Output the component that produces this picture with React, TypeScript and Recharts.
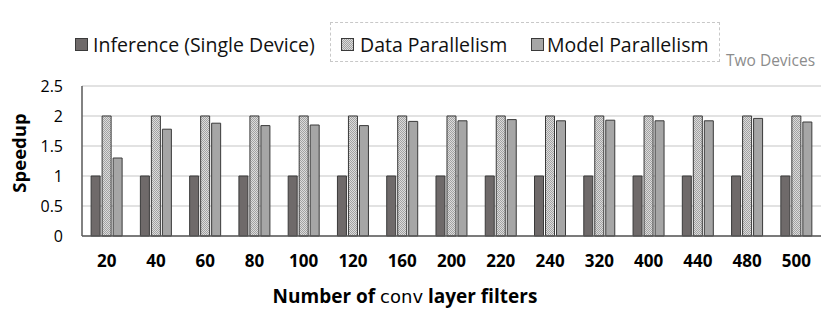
import React from 'react'
import { BarChart, Bar, XAxis, YAxis, CartesianGrid } from 'recharts'

const filters = ['20', '40', '60', '80', '100', '120', '160', '200', '220', '240', '320', '400', '440', '480', '500']
const inference = [1, 1, 1, 1, 1, 1, 1, 1, 1, 1, 1, 1, 1, 1, 1]
const dataParallel = [2, 2, 2, 2, 2, 2, 2, 2, 2, 2, 2, 2, 2, 2, 2]
const modelParallel = [1.3, 1.78, 1.88, 1.84, 1.85, 1.84, 1.91, 1.92, 1.94, 1.92, 1.93, 1.92, 1.92, 1.96, 1.9]
const yTicks = [0, 0.5, 1, 1.5, 2, 2.5]

const rows = filters.map((name, i) => ({
  name,
  inference: inference[i],
  data: dataParallel[i],
  model: modelParallel[i]
}))

const FONT = '"Open Sans", sans-serif'
const STROKE = '#3a3a3a'
const INF_FILL = '#6f6a6a'
const MODEL_FILL = '#a6a6a6'

const Swatch = ({ fill }: { fill: string }) => (
  <svg width={13} height={13} style={{ display: 'block' }}>
    <rect x={0.5} y={0.5} width={12} height={12} fill={fill} stroke={STROKE} strokeWidth={1} />
  </svg>
)

const legendItem = (left: number, textLeft: number, fill: string, label: string) => (
  <>
    <div style={{ position: 'absolute', left, top: 38 }}>
      <Swatch fill={fill} />
    </div>
    <div
      style={{
        position: 'absolute',
        left: textLeft,
        top: 31,
        fontFamily: FONT,
        fontSize: 19.5,
        lineHeight: '28px',
        color: '#111',
        whiteSpace: 'nowrap'
      }}
    >
      {label}
    </div>
  </>
)

export default function App() {
  return (
    <div style={{ position: 'absolute', left: 0, top: 0, width: 830, height: 312, background: '#fff' }}>
      <BarChart
        width={830}
        height={312}
        data={rows}
        margin={{ top: 86, right: 9, bottom: 46, left: 0 }}
        barCategoryGap="18.5%"
        barGap={2}
      >
        <defs>
          <pattern id="dpHatch" width={2} height={2} patternUnits="userSpaceOnUse">
            <rect width={2} height={2} fill="#dcdcdc" />
            <rect x={0} y={0} width={1} height={1} fill="#a2a2a2" />
            <rect x={1} y={1} width={1} height={1} fill="#a2a2a2" />
          </pattern>
        </defs>
        <CartesianGrid vertical={false} stroke="#d9d9d9" strokeWidth={1.5} />
        <XAxis
          dataKey="name"
          height={30}
          tickLine={false}
          tickSize={0}
          tickMargin={19}
          axisLine={{ stroke: '#595959', strokeWidth: 1.5 }}
          tick={{ fontFamily: FONT, fontSize: 17, fontWeight: 700, fill: '#000' }}
          interval={0}
          label={{
            content: () => (
              <text x={405} y={303} textAnchor="middle" fontFamily={FONT} fontSize={19} fontWeight={700} fill="#000">
                Number of{' '}
                <tspan fontFamily='"DejaVu Sans", sans-serif' fontWeight={400} fontSize={18}>
                  conv
                </tspan>{' '}
                layer filters
              </text>
            )
          }}
        />
        <YAxis
          width={82}
          domain={[0, 2.5]}
          ticks={yTicks}
          tickLine={false}
          tickSize={0}
          tickMargin={19}
          axisLine={{ stroke: '#595959', strokeWidth: 1.5 }}
          tick={{ fontFamily: FONT, fontSize: 16, fill: '#000' }}
          label={{
            content: () => (
              <text
                x={26}
                y={153}
                transform="rotate(-90 26 153)"
                textAnchor="middle"
                fontFamily={FONT}
                fontSize={18.5}
                fontWeight={700}
                fill="#000"
              >
                Speedup
              </text>
            )
          }}
        />
        <Bar dataKey="inference" fill={INF_FILL} stroke={STROKE} strokeWidth={1} isAnimationActive={false} />
        <Bar dataKey="data" fill="url(#dpHatch)" stroke={STROKE} strokeWidth={1} isAnimationActive={false} />
        <Bar dataKey="model" fill={MODEL_FILL} stroke={STROKE} strokeWidth={1} isAnimationActive={false} />
      </BarChart>

      {legendItem(75, 93, INF_FILL, 'Inference (Single Device)')}
      <div
        style={{
          position: 'absolute',
          left: 330,
          top: 22,
          width: 390,
          height: 40,
          border: '1px dashed #c8c8c8',
          boxSizing: 'border-box'
        }}
      />
      {legendItem(341, 360, 'url(#dpHatch)', 'Data Parallelism')}
      {legendItem(531, 547, MODEL_FILL, 'Model Parallelism')}
      <div
        style={{
          position: 'absolute',
          left: 726,
          top: 47,
          fontFamily: FONT,
          fontSize: 15.5,
          lineHeight: '26px',
          color: '#8c8c8c',
          whiteSpace: 'nowrap'
        }}
      >
        Two Devices
      </div>
    </div>
  )
}
